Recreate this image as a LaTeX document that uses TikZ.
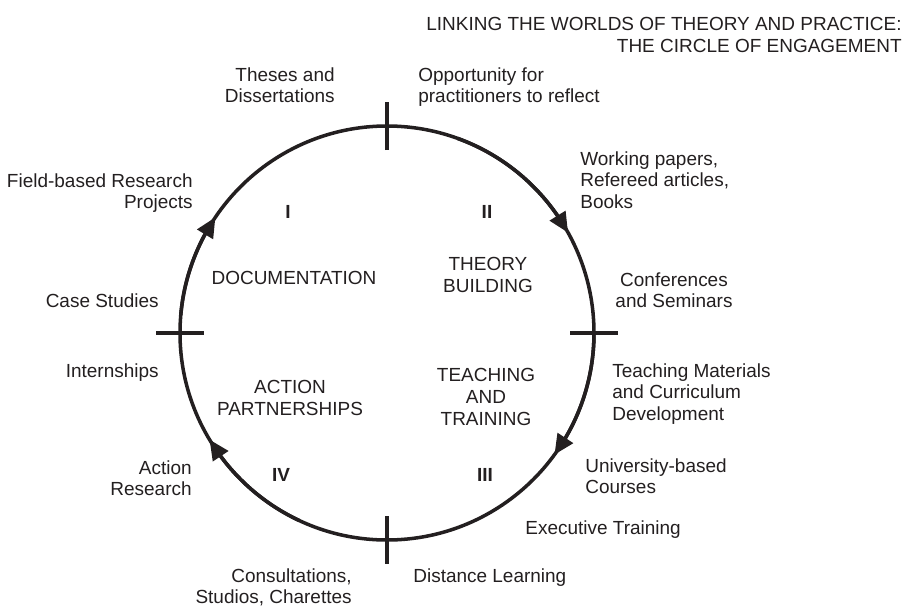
\documentclass[tikz,border=0pt]{standalone}
\usepackage{fontspec}
\setmainfont{Liberation Sans}
\usetikzlibrary{arrows.meta,bending}
\definecolor{ink}{HTML}{231F20}

\begin{document}
\begin{tikzpicture}[
    every node/.style={inner sep=0pt,text=ink,font=\fontsize{10.8}{12.4}\selectfont},
    ring/.style={line width=2pt,ink},
    flow/.style={ring,-{Triangle[length=0.4cm,width=0.36cm]}},
    quad/.style={font=\fontsize{10.8}{12.4}\selectfont\bfseries},
    ]
    \useasboundingbox (-7.74,-5.48) rectangle (10.44,6.66);
    \coordinate (ctr) at (0,0);

    % the circle, its four ticks and the clockwise arrows
    \draw[ring] (ctr) circle (4.14);
    \foreach \a in {0,90,180,270}
        \draw[ring] (\a:3.66) -- (\a:4.62);
    \draw[flow] (175:4.14) arc[start angle=175,end angle=146,radius=4.14];
    \draw[flow] (70:4.14) arc[start angle=70,end angle=29,radius=4.14];
    \draw[flow] (0:4.14) arc[start angle=0,end angle=-36,radius=4.14];
    \draw[flow] (245:4.14) arc[start angle=245,end angle=211,radius=4.14];

    \node[anchor=north east,align=right] (title) at (10.30,6.32)
        {LINKING THE WORLDS OF THEORY AND PRACTICE:\\THE CIRCLE OF ENGAGEMENT};

    % quadrants
    \node[quad,anchor=north] (q1) at (-1.98,2.56) {I};
    \node[quad,anchor=north] (q2) at (2.00,2.56) {II};
    \node[quad,anchor=north] (q3) at (1.96,-2.70) {III};
    \node[quad,anchor=north] (q4) at (-2.12,-2.70) {IV};

    \node[anchor=north] (doc) at (-1.86,1.24) {DOCUMENTATION};
    \node[anchor=north,align=center] (theory) at (2.02,1.52) {THEORY\\BUILDING};
    \node[anchor=north,align=center] (teach) at (1.98,-0.70) {TEACHING\\AND\\TRAINING};
    \node[anchor=north,align=center] (action) at (-1.94,-0.94) {ACTION\\PARTNERSHIPS};

    % outer labels
    \node[anchor=north east,align=right] (theses) at (-1.04,5.32) {Theses and\\Dissertations};
    \node[anchor=north west,align=left] (reflect) at (0.62,5.32) {Opportunity for\\practitioners to reflect};
    \node[anchor=north east,align=right] (fieldres) at (-3.88,3.20) {Field-based Research\\Projects};
    \node[anchor=north west,align=left] (papers) at (3.86,3.64) {Working papers,\\Refereed articles,\\Books};
    \node[anchor=north,align=center] (conf) at (5.74,1.22) {Conferences\\and Seminars};
    \node[anchor=north west,align=left] (teachmat) at (4.50,-0.60) {Teaching Materials\\and Curriculum\\Development};
    \node[anchor=north west,align=left] (univ) at (3.96,-2.50) {University-based\\Courses};
    \node[anchor=north west] (exec) at (2.76,-3.74) {Executive Training};
    \node[anchor=north west] (distance) at (0.52,-4.70) {Distance Learning};
    \node[anchor=north east,align=right] (consult) at (-0.70,-4.70) {Consultations,\\Studios, Charettes};
    \node[anchor=north east,align=right] (actres) at (-3.90,-2.54) {Action\\Research};
    \node[anchor=north east] (intern) at (-4.56,-0.60) {Internships};
    \node[anchor=north east] (cases) at (-4.56,0.80) {Case Studies};
\end{tikzpicture}
\end{document}
